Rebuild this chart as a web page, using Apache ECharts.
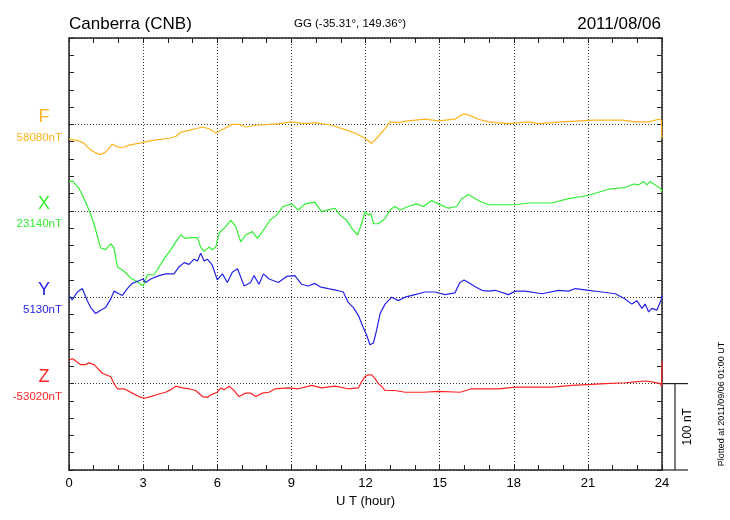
<!DOCTYPE html>
<html><head><meta charset="utf-8">
<script src="https://cdn.jsdelivr.net/npm/echarts@6/dist/echarts.min.js"></script>
<style>html,body{margin:0;padding:0;background:#fff}#c{width:730px;height:520px}</style>
</head><body><div id="c"></div>
<script>
// ---- data (deviation from baseline, nT) ----
const components = ['F', 'X', 'Y', 'Z'];
const baseLabels = ['58080nT', '23140nT', '5130nT', '-53020nT'];
const baselines = [400, 300, 200, 100]; // plotting offsets (nT)
const xTickLabels = ['0', '3', '6', '9', '12', '15', '18', '21', '24'];

const fHours = [0,0.4,0.61,0.81,1.08,1.28,1.48,1.75,1.96,2.16,2.43,2.97,3.13,3.51,4.05,4.32,4.52,4.86,5.13,5.4,5.67,5.94,6.21,6.61,6.88,7.15,7.56,8.1,8.5,9.01,9.55,9.95,10.63,11.17,11.57,11.98,12.25,12.52,12.79,12.99,13.33,13.73,14.41,14.95,15.62,15.89,16.03,16.17,16.57,16.98,17.79,18.6,19.0,19.95,21.3,22.38,22.92,23.46,23.86,23.97,24.0];
const fDev = [-17,-19,-22,-28,-33,-35,-32,-23,-26,-27,-24,-21,-20,-18,-16,-14,-9,-7,-5,-3,-5,-10,-6,0,0,-3,-1,0,1,3,1,2,-1,-6,-10,-16,-22,-14,-5,3,2,4,6,4,6,11,12,11,6,3,1,3,1,3,5,5,3,3,6,5,-16];

const xHours = [0,0.13,0.4,0.61,0.81,1.01,1.28,1.48,1.69,1.82,1.96,2.23,2.5,2.77,3.0,3.17,3.44,3.64,3.91,4.12,4.32,4.52,4.72,4.93,5.2,5.33,5.47,5.67,5.8,5.94,6.07,6.28,6.55,6.75,6.95,7.15,7.42,7.62,7.83,8.13,8.4,8.67,9.01,9.28,9.55,9.95,10.22,10.49,10.76,10.97,11.24,11.44,11.68,11.84,11.98,12.11,12.22,12.32,12.52,12.79,12.99,13.19,13.4,13.73,14.07,14.34,14.68,14.95,15.35,15.69,15.89,16.17,16.44,16.71,16.98,17.52,18.06,18.6,19.54,20.22,21.03,21.84,22.51,22.85,23.05,23.25,23.39,23.52,23.73,23.97,24.0];
const xDev = [33,35,26,14,1,-15,-43,-45,-38,-43,-65,-70,-78,-82,-87,-74,-74,-65,-53,-45,-36,-28,-32,-31,-31,-42,-47,-42,-45,-42,-26,-20,-11,-18,-36,-28,-24,-32,-24,-11,-5,5,8,1,8,10,-1,1,3,-5,-11,-20,-28,-15,-1,-5,-3,-15,-15,-9,1,5,1,5,8,5,12,8,3,5,14,19,14,10,7,7,7,9,9,14,18,25,27,31,30,34,30,34,30,25,22];

const yHours = [0,0.13,0.34,0.54,0.74,0.88,1.08,1.28,1.48,1.69,1.82,2.02,2.16,2.36,2.56,2.83,3.0,3.1,3.31,3.64,3.91,4.25,4.45,4.66,4.86,5.06,5.2,5.33,5.47,5.6,5.8,6.0,6.21,6.41,6.61,6.82,7.09,7.35,7.49,7.69,7.87,8.1,8.47,8.81,9.14,9.41,9.68,9.95,10.16,10.49,10.83,11.1,11.3,11.51,11.71,11.91,12.05,12.18,12.32,12.45,12.59,12.79,13.06,13.33,13.6,14.0,14.41,14.81,15.22,15.62,15.82,15.99,16.17,16.44,16.71,16.98,17.25,17.79,18.06,18.46,19.14,19.81,20.22,20.49,21.03,21.57,22.11,22.51,22.78,22.98,23.19,23.32,23.46,23.59,23.79,23.97,24.0];
const yDev = [2,-3,6,10,-4,-12,-19,-15,-12,-2,7,4,2,10,16,19,21,17,21,25,27,27,35,40,38,44,42,51,42,44,37,20,27,17,29,33,13,17,25,15,27,21,17,24,25,15,13,16,12,10,8,6,-6,-12,-21,-35,-44,-55,-53,-38,-19,-8,0,-4,0,3,6,6,3,5,17,20,17,12,8,7,8,3,7,7,4,8,7,10,8,6,4,-2,-8,-4,-13,-8,-17,-13,-15,-3,2];

const zHours = [0,0.13,0.47,0.67,0.81,1.01,1.35,1.69,1.82,1.96,2.23,2.56,2.83,3.04,3.31,3.64,3.91,4.12,4.32,4.59,4.86,5.13,5.4,5.6,5.74,6.0,6.14,6.28,6.48,6.68,6.88,7.15,7.35,7.56,7.83,8.1,8.34,8.87,9.28,9.82,10.22,10.76,11.3,11.71,11.84,11.98,12.1,12.25,12.38,12.52,12.65,12.79,13.19,13.6,14.34,14.95,15.83,16.3,17.38,18.06,18.73,19.54,20.35,21.16,21.7,22.51,22.92,23.32,23.59,23.93,23.99,24.0];
const zDev = [27,29,22,22,24,22,12,8,0,-6,-6,-11,-15,-17,-15,-12,-10,-7,-3,-5,-6,-8,-15,-16,-13,-10,-5,-7,-3,-8,-15,-11,-11,-15,-11,-10,-6,-5,-6,-2,-5,-3,-6,-5,2,8,10,10,6,0,-3,-8,-8,-10,-10,-9,-10,-6,-6,-4,-4,-4,-2,-1,0,1,2,3,2,0,-3,26];

const colors = ['#FFB420', '#33EE33', '#2424E6', '#FF2424'];
const hoursList = [fHours, xHours, yHours, zHours];
const devList = [fDev, xDev, yDev, zDev];

const FONT = '"Liberation Sans", Arial, Helvetica, sans-serif';
const chart = echarts.init(document.getElementById('c'));
const G = {left: 69, right: 68, top: 38, bottom: 50};

const dotted = {show: true, lineStyle: {color: '#333', width: 1, type: [1, 2]}};
const axLine = {show: true, onZero: false, lineStyle: {color: '#222', width: 1.5}};
const tick = {show: true, inside: true, length: 5, lineStyle: {color: '#222', width: 1}};

const series = components.map((c, i) => ({
  name: c, type: 'line', showSymbol: false, symbol: 'none',
  lineStyle: {color: colors[i], width: 1.2}, z: 5,
  data: hoursList[i].map((h, k) => [h, baselines[i] + devList[i][k]])
}));

chart.setOption({
  animation: false,
  grid: G,
  xAxis: [
    {type: 'value', min: 0, max: 24, interval: 3, position: 'bottom',
     axisLine: axLine, axisTick: tick,
     minorTick: {show: true, splitNumber: 3, length: 5, lineStyle: {color: '#222', width: 1}},
     splitLine: dotted,
     axisLabel: {margin: 7, color: '#000', fontSize: 13, fontFamily: FONT,
       formatter: v => xTickLabels[Math.round(v / 3)]},
     name: 'U T (hour)', nameLocation: 'middle', nameGap: 25,
     nameTextStyle: {color: '#000', fontSize: 13, fontFamily: FONT}},
    {type: 'value', min: 0, max: 24, interval: 3, position: 'top',
     axisLine: axLine, axisTick: tick,
     minorTick: {show: true, splitNumber: 3, length: 5, lineStyle: {color: '#222', width: 1}},
     splitLine: {show: false}, axisLabel: {show: false}}
  ],
  yAxis: [
    {type: 'value', min: 0, max: 500, interval: 100, position: 'left',
     axisLine: axLine, axisTick: tick,
     minorTick: {show: true, splitNumber: 5, length: 5, lineStyle: {color: '#222', width: 1}},
     splitLine: dotted, axisLabel: {show: false}},
    {type: 'value', min: 0, max: 500, interval: 100, position: 'right',
     axisLine: axLine, axisTick: tick,
     minorTick: {show: true, splitNumber: 5, length: 5, lineStyle: {color: '#222', width: 1}},
     splitLine: {show: false}, axisLabel: {show: false}}
  ],
  series: series
});

const px = (h, v) => chart.convertToPixel({xAxisIndex: 0, yAxisIndex: 0}, [h, v]);
const gfx = [];
const [x0, yTop] = px(0, 500);
const [x24, yBot] = px(24, 0);

gfx.push({type: 'text', left: x0, top: 16, style: {text: 'Canberra (CNB)', font: '17px ' + FONT, fill: '#000'}});
gfx.push({type: 'text', x: 350, y: 24, style: {text: 'GG (-35.31°, 149.36°)', font: '11.5px ' + FONT, fill: '#000', align: 'center', verticalAlign: 'middle'}});
gfx.push({type: 'text', x: x24 - 1, y: 24, style: {text: '2011/08/06', font: '17px ' + FONT, fill: '#000', align: 'right', verticalAlign: 'middle'}});

components.forEach((c, i) => {
  const [, yb] = px(0, baselines[i]);
  gfx.push({type: 'text', x: x0 - 25, y: yb - 7, style: {text: c, font: '18px ' + FONT, fill: colors[i], align: 'center', verticalAlign: 'middle'}});
  gfx.push({type: 'text', x: x0 - 7, y: yb + 13, style: {text: baseLabels[i], font: '11.5px ' + FONT, fill: colors[i], align: 'right', verticalAlign: 'middle'}});
});

// 100 nT scale bar
const [, y100] = px(24, 100);
const barStyle = {stroke: '#222', lineWidth: 1.2};
gfx.push({type: 'line', shape: {x1: x24, y1: y100, x2: x24 + 26, y2: y100}, style: barStyle});
gfx.push({type: 'line', shape: {x1: x24, y1: yBot, x2: x24 + 26, y2: yBot}, style: barStyle});
gfx.push({type: 'line', shape: {x1: x24 + 13, y1: y100, x2: x24 + 13, y2: yBot}, style: barStyle});
gfx.push({type: 'text', x: x24 + 26, y: (y100 + yBot) / 2, rotation: Math.PI / 2,
  style: {text: '100 nT', font: '12px ' + FONT, fill: '#000', align: 'center', verticalAlign: 'middle'}});
gfx.push({type: 'text', x: 722, y: 404, rotation: Math.PI / 2,
  style: {text: 'Plotted at 2011/09/06 01:00 UT', font: '9px ' + FONT, fill: '#000', align: 'center', verticalAlign: 'middle'}});

chart.setOption({graphic: gfx});
</script></body></html>
